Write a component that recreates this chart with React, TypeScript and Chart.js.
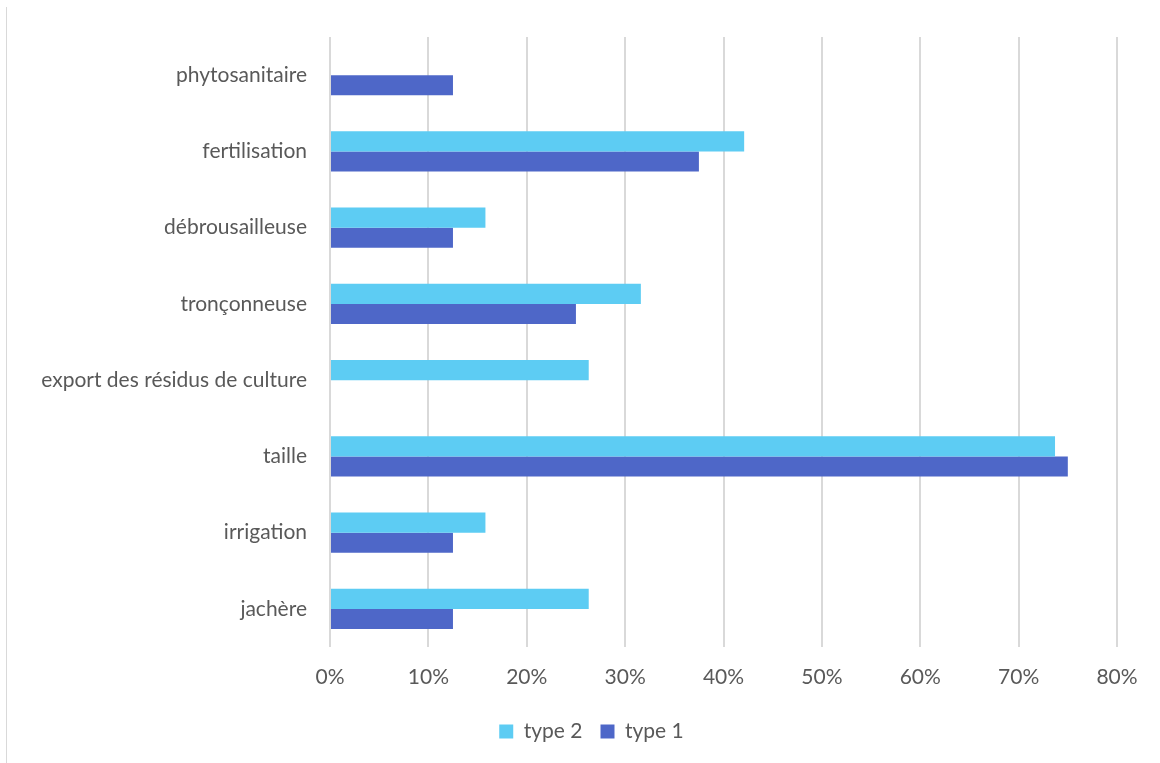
import React, { useEffect, useRef } from "react";
import { Chart, registerables } from "chart.js";

Chart.register(...registerables);

const categories = [
  "phytosanitaire",
  "fertilisation",
  "débrousailleuse",
  "tronçonneuse",
  "export des résidus de culture",
  "taille",
  "irrigation",
  "jachère",
];
const type2Values = [0, 0.421, 0.158, 0.316, 0.263, 0.737, 0.158, 0.263];
const type1Values = [0.125, 0.375, 0.125, 0.25, 0, 0.75, 0.125, 0.125];
const seriesLabels = ["type 2", "type 1"];
const xTicks = [0, 0.1, 0.2, 0.3, 0.4, 0.5, 0.6, 0.7, 0.8];

const FONT = "Lato, 'Open Sans', sans-serif";
const TEXT = "#595959";
const FS = 21;

const legendShift = {
  id: "legendShift",
  afterLayout(chart: any) {
    const lg = chart.legend;
    if (lg) {
      lg.left += 33;
      lg.right += 33;
    }
  },
};

export default function App() {
  const ref = useRef<HTMLCanvasElement | null>(null);

  useEffect(() => {
    if (!ref.current) return;
    const chart = new Chart(ref.current, {
      type: "bar",
      data: {
        labels: categories,
        datasets: [
          {
            label: seriesLabels[0],
            data: type2Values,
            backgroundColor: "#5DCCF3",
            categoryPercentage: 0.526,
            barPercentage: 1,
          },
          {
            label: seriesLabels[1],
            data: type1Values,
            backgroundColor: "#4E67C8",
            categoryPercentage: 0.526,
            barPercentage: 1,
          },
        ],
      },
      plugins: [legendShift],
      options: {
        indexAxis: "y",
        animation: false,
        responsive: false,
        maintainAspectRatio: false,
        layout: { padding: { left: 0, top: 37, right: 43, bottom: 11 } },
        plugins: {
          tooltip: { enabled: false },
          legend: {
            position: "bottom",
            labels: {
              boxWidth: 14,
              boxHeight: 14,
              color: TEXT,
              font: { family: FONT, size: FS },
              padding: 18,
            },
          },
        },
        scales: {
          x: {
            min: 0,
            max: 0.8,
            afterBuildTicks: (s: any) => {
              s.ticks = xTicks.map((v) => ({ value: v }));
            },
            afterFit: (s: any) => {
              s.height = 56;
            },
            grid: { color: "#d9d9d9", lineWidth: 2, drawTicks: false },
            border: { display: false },
            ticks: {
              color: TEXT,
              font: { family: FONT, size: FS },
              padding: 18,
              callback: (v: any) => Math.round(Number(v) * 100) + "%",
            },
          },
          y: {
            afterFit: (s: any) => {
              s.width = 330;
            },
            grid: { display: false, drawTicks: false },
            border: { display: false },
            ticks: {
              color: TEXT,
              font: { family: FONT, size: FS },
              padding: 23,
            },
          },
        },
      },
    });
    return () => chart.destroy();
  }, []);

  return (
    <div style={{ position: "fixed", left: 0, top: 0, width: 1160, height: 763, background: "#fff" }}>
      <div
        style={{
          position: "absolute",
          left: 6,
          top: 7,
          width: 1,
          height: 756,
          background: "#d9d9d9",
        }}
      />
      <canvas ref={ref} width={1160} height={763} style={{ position: "absolute", left: 0, top: 0 }} />
    </div>
  );
}
